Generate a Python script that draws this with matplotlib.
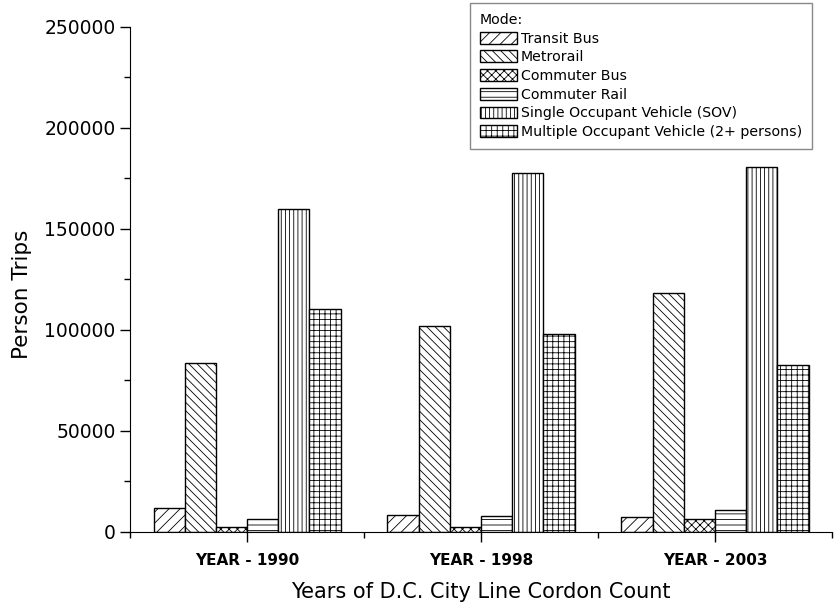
import numpy as np
import matplotlib
matplotlib.use("Agg")
import matplotlib.pyplot as plt

# data
years = ["YEAR - 1990", "YEAR - 1998", "YEAR - 2003"]
modes = ["Transit Bus", "Metrorail", "Commuter Bus", "Commuter Rail",
         "Single Occupant Vehicle (SOV)", "Multiple Occupant Vehicle (2+ persons)"]
transit_bus = [11800, 8300, 7400]
metrorail = [83800, 102100, 118500]
commuter_bus = [2300, 2300, 6600]
commuter_rail = [6600, 7800, 10900]
sov = [160000, 177500, 180700]
mov = [110200, 98200, 82500]
hatches = ["///", "\\\\\\\\", "xxxx", "---", "||||", "+++"]

plt.rcParams['font.family'] = ['DejaVu Sans']
plt.rcParams['hatch.linewidth'] = 0.6

fig = plt.figure(figsize=(8.34, 6.02), dpi=100)
ax = fig.add_axes([0.156, 0.1163, 0.8416, 0.8389])

series = [transit_bus, metrorail, commuter_bus, commuter_rail, sov, mov]
x = np.arange(1, len(years) + 1)
width = 0.8 / len(series)
for i, (vals, name, h) in enumerate(zip(series, modes, hatches)):
    ax.bar(x - 0.4 + width * (i + 0.5), vals, width, facecolor="white",
           edgecolor="black", linewidth=1.0, hatch=h, label=name)

ax.set_xlim(0.5, 3.5)
ax.set_ylim(0, 250000)
ax.spines["top"].set_visible(False)
ax.spines["right"].set_visible(False)

ax.set_xticks(x)
ax.set_xticklabels(years, fontsize=11, fontweight="bold")
ax.set_xticks([0.5, 1.5, 2.5, 3.5], minor=True)
ax.set_yticks(np.arange(0, 250001, 50000))
ax.set_yticks(np.arange(25000, 250000, 50000), minor=True)
ax.tick_params(axis="both", which="major", length=7, width=1)
ax.tick_params(axis="y", which="major", labelsize=13.5)
ax.tick_params(axis="both", which="minor", length=4, width=1)
ax.tick_params(axis="x", which="major", pad=8)

ax.set_ylabel("Person Trips", fontsize=15.5)
ax.yaxis.set_label_coords(-0.14, 0.47)
ax.set_xlabel("Years of D.C. City Line Cordon Count", fontsize=15, labelpad=10)

leg = ax.legend(title="Mode:", loc="upper right",
                bbox_to_anchor=(812 / 834, 1 - 3 / 602),
                bbox_transform=fig.transFigure, borderaxespad=0, fontsize=10.2,
                title_fontsize=10.2, alignment="left", fancybox=False,
                edgecolor="#888888", framealpha=1, handlelength=2.6,
                handleheight=0.9, labelspacing=0.33, handletextpad=0.3,
                borderpad=0.7)
leg.get_frame().set_linewidth(1.0)

fig.savefig("out.png", dpi=100)
